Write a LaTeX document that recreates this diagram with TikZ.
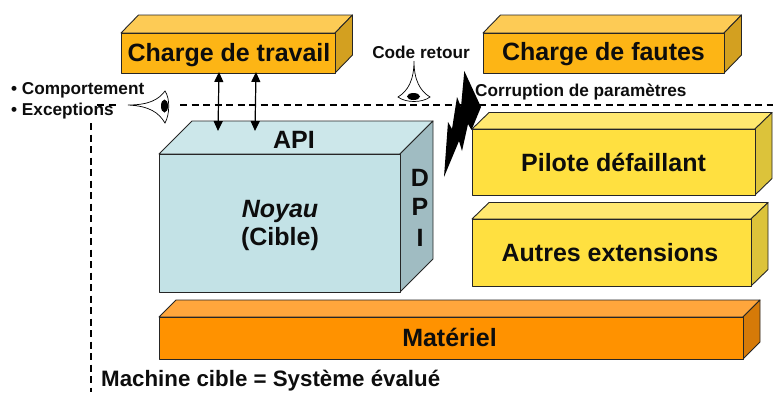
\documentclass[tikz,border=0pt]{standalone}
\usepackage{fontspec}
\setmainfont{Liberation Sans}
\usetikzlibrary{arrows.meta}
\tikzset{
 edgeline/.style={draw=black!85,line width=0.9pt,line join=round},
 lbl/.style={inner sep=0pt,text=black!95,anchor=center},
 dashline/.style={line width=1.1pt,dash pattern=on 7pt off 4.5pt},
 duplex/.style={line width=1.2pt,{Triangle[width=9pt,length=10pt]}-{Triangle[width=9pt,length=10pt]}},
 big/.style={lbl,font=\bfseries\fontsize{25}{27}\selectfont},
 small/.style={lbl,font=\bfseries\fontsize{17.2}{19}\selectfont}
}
% \boite{x0}{y0}{x1}{y1}{dx}{dy}{front}{top}{side}
\newcommand{\boite}[9]{%
 \filldraw[edgeline,fill=#8] (#1,#2) -- (#1+#5,#2-#6) -- (#3+#5,#2-#6) -- (#3,#2) -- cycle;
 \filldraw[edgeline,fill=#9] (#3,#2) -- (#3+#5,#2-#6) -- (#3+#5,#4-#6) -- (#3,#4) -- cycle;
 \filldraw[edgeline,fill=#7] (#1,#2) rectangle (#3,#4);
}
\definecolor{oF}{HTML}{FDB515}\definecolor{oT}{HTML}{FDCB55}\definecolor{oS}{HTML}{D3A020}
\definecolor{yF}{HTML}{FFE040}\definecolor{yT}{HTML}{FFE870}\definecolor{yS}{HTML}{DCC33A}
\definecolor{mF}{HTML}{FF9200}\definecolor{mT}{HTML}{FFA63C}\definecolor{mS}{HTML}{D67A08}
\definecolor{bF}{HTML}{C3E2E6}\definecolor{bT}{HTML}{CCE7EA}\definecolor{bS}{HTML}{A0BCC2}
\begin{document}
\begin{tikzpicture}[x=1pt,y=-1pt]
\useasboundingbox (0,0) rectangle (773,392);
% dashed boundary
\coordinate (dl) at (97,105); \coordinate (dm) at (120,105);
\coordinate (dn) at (180,105); \coordinate (dr) at (773,105);
\coordinate (vt) at (91,123); \coordinate (vb) at (91,392);
\draw[dashline] (dl) -- (dm);
\draw[dashline] (dn) -- (dr);
\draw[dashline] (vt) -- (vb);
% boxes
\boite{121}{33}{335}{73}{17.5}{18}{oF}{oT}{oS}
\boite{483}{33}{724}{73}{17.5}{18}{oF}{oT}{oS}
\boite{472}{129}{755}{195}{17}{16.5}{yF}{yT}{yS}
\boite{472}{219}{751}{286}{17}{16.5}{yF}{yT}{yS}
\boite{159}{317}{743}{359}{17}{17}{mF}{mT}{mS}
\boite{159}{154}{400}{292}{33}{33}{bF}{bT}{bS}
% anchors for the double arrows
\coordinate (a1t) at (219,72); \coordinate (a1b) at (218,131);
\coordinate (a2t) at (256,72); \coordinate (a2b) at (255,131);
\draw[duplex] (a1t) -- (a1b);
\draw[duplex] (a2t) -- (a2b);
% lightning
\fill[black] (464.3,71) -- (481,107) -- (471.5,130) -- (468,124) -- (462,151) -- (459,141) -- (444,177)
 -- (448,122) -- (452,129) -- (457,97) -- (461,107) -- cycle;
% eye left
\draw[line width=0.7pt] (128,105) .. controls (150,105) and (159,99) .. (165,91)
  .. controls (170,98) and (170,114) .. (165,123)
  .. controls (159,113) and (150,106) .. (128,105);
\fill[black] (164.5,106) ellipse (3.5 and 6.5);
% eye top
\draw[line width=0.7pt] (414,61) .. controls (414,80) and (420,91) .. (430,97)
  .. controls (422,103) and (406,103) .. (398,97)
  .. controls (408,91) and (414,80) .. (414,61);
\fill[black] (413.5,96.5) ellipse (6.5 and 3.5);
% labels
\node[big] (t1) at (229,55.5) {Charge de travail};
\node[big] (t2) at (603.5,54) {Charge de fautes};
\node[big] (t3) at (613.5,162.5) {Pilote défaillant};
\node[big] (t4) at (610,253) {Autres extensions};
\node[big] (t5) at (449.5,337) {Matériel};
\node[big] (t6) at (294,140) {API};
\node[big,font=\bfseries\itshape\fontsize{25}{27}\selectfont] (t7) at (280,211) {Noyau};
\node[big] (t8) at (280,239) {(Cible)};
\node[big] (d) at (420,178) {D};
\node[big] (p) at (420,207) {P};
\node[big] (i) at (420,238) {I};
\node[small] (t9) at (421,52.5) {Code retour};
\node[small,anchor=west] (t10) at (475,91.5) {Corruption de paramètres};
\node[small,anchor=west] (t11) at (11,90) {• Comportement};
\node[small,anchor=west] (t12) at (11,111) {• Exceptions};
\node[lbl,font=\bfseries\fontsize{22.3}{24}\selectfont,anchor=west] (t13) at (101,381) {Machine cible = Système évalué};
\end{tikzpicture}
\end{document}
